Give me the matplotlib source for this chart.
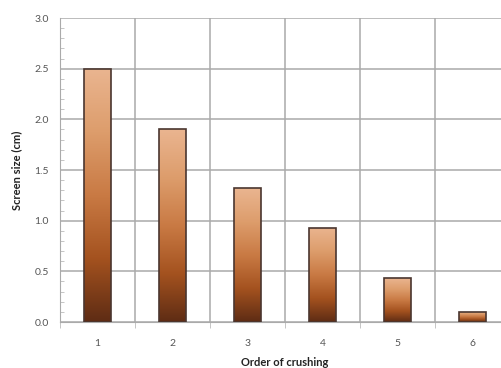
import numpy as np
import matplotlib
matplotlib.use("Agg")
import matplotlib.pyplot as plt
from matplotlib.colors import LinearSegmentedColormap
from matplotlib.ticker import MultipleLocator

plt.rcParams['font.family'] = ['Lato', 'DejaVu Sans']

order = [1, 2, 3, 4, 5, 6]
screen_size = [2.5, 1.9, 1.32, 0.93, 0.43, 0.1]

# brown gradient, dark at the base, light at the top of each bar
cmap = LinearSegmentedColormap.from_list(
    "brown", ["#5e2c14", "#a4521f", "#c97a44", "#dd9d6c", "#eab590"])

fig = plt.figure(figsize=(5.02, 3.68), dpi=100)
ax = fig.add_axes([60 / 502, 46 / 368, 450 / 502, 304 / 368])

x = np.arange(len(order))
width = 0.35
bars = ax.bar(x, screen_size, width=width, color="none",
              edgecolor="#4a3630", linewidth=1.2, zorder=3)

grad = np.linspace(0, 1, 256).reshape(-1, 1)
for b in bars:
    x0, y0 = b.get_x(), b.get_y()
    w, h = b.get_width(), b.get_height()
    im = ax.imshow(grad, cmap=cmap, origin="lower", aspect="auto",
                   extent=[x0, x0 + w, y0, y0 + h], zorder=2)
    im.set_clip_path(b)

ax.set_xlim(-0.5, len(order) - 0.5)
ax.set_ylim(0, 3.0)
ax.set_xticks(x)
ax.set_xticklabels([str(o) for o in order])
ax.yaxis.set_major_locator(MultipleLocator(0.5))
ax.yaxis.set_minor_locator(MultipleLocator(0.1))
ax.yaxis.set_major_formatter(plt.FormatStrFormatter("%.1f"))

# grid between categories and at each major y value
ax.set_xticks(np.arange(len(order) + 1) - 0.5, minor=True)
ax.grid(True, which="major", axis="y", color="#aaaaaa", linewidth=1.1, zorder=0)
ax.grid(True, which="minor", axis="x", color="#aaaaaa", linewidth=1.1, zorder=0)

ax.tick_params(axis="y", which="major", labelsize=7.5, labelcolor="#555555",
               length=0, pad=8)
ax.tick_params(axis="x", which="major", labelsize=7.5, labelcolor="#555555",
               length=0, pad=12)
ax.tick_params(axis="y", which="minor", length=3, color="#bbbbbb", direction="in")
ax.tick_params(axis="x", which="minor", length=4, color="#bbbbbb", direction="out")

for side in ["top", "right"]:
    ax.spines[side].set_visible(False)
ax.spines["left"].set_color("#aaaaaa")
ax.spines["bottom"].set_color("#aaaaaa")

ax.set_xlabel("Order of crushing", fontsize=8, fontweight="bold", color="#222222",
              labelpad=7)
ax.set_ylabel("Screen size (cm)", fontsize=8, fontweight="bold", color="#222222",
              labelpad=9)

fig.savefig("out.png", dpi=100)
